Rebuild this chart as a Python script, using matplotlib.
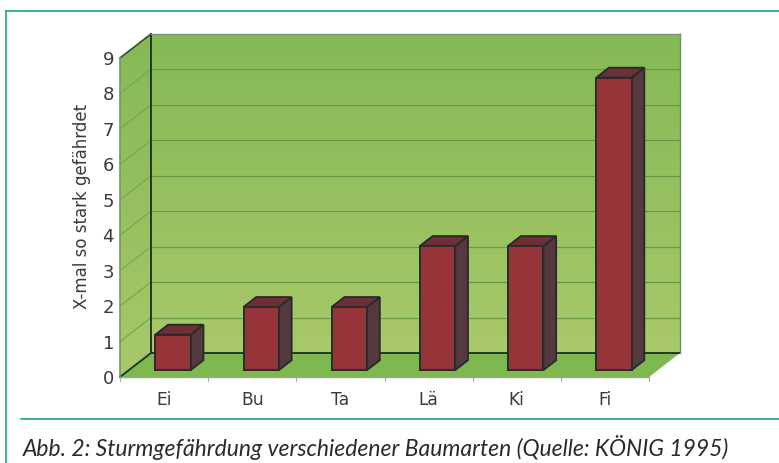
import numpy as np
import matplotlib
matplotlib.use("Agg")
import matplotlib.pyplot as plt
from matplotlib.patches import Polygon, Rectangle
from matplotlib.lines import Line2D
from matplotlib.colors import LinearSegmentedColormap

categories = ["Ei", "Bu", "Ta", "Lä", "Ki", "Fi"]
values = [1.0, 1.78, 1.78, 3.5, 3.5, 8.25]
y_ticks = list(range(10))
y_label = "X-mal so stark gefährdet"
caption = "Abb. 2: Sturmgefährdung verschiedener Baumarten (Quelle: KÖNIG 1995)"

W, H = 779, 463
X0, Y0 = 120.0, 377.0     # pixel of data origin
SX, SY = 88.17, 35.45     # px per category / per unit
DX, DY = 31 / SX, 24 / SY # chart depth in data units
YMAX = 9
N = len(categories)

fig = plt.figure(figsize=(W / 100, H / 100), dpi=100, facecolor="white")
ax = fig.add_axes([0, 0, 1, 1])
ax.axis("off")

cmap = LinearSegmentedColormap.from_list("wall", ["#a8c96a", "#96c05f", "#85b955"])
grad = np.linspace(0, 1, 256).reshape(-1, 1)


def shaded(poly, y0, y1):
    p = Polygon(poly, closed=True, fc="none", ec="none")
    ax.add_patch(p)
    im = ax.imshow(grad, origin="lower", cmap=cmap, aspect="auto",
                   extent=(-X0 / SX, N + DX + 1, y0, y1), zorder=1)
    im.set_clip_path(p)


# back wall and left wall
shaded([(DX, DY), (N + DX, DY), (N + DX, YMAX + DY), (DX, YMAX + DY)], DY, YMAX + DY)
shaded([(0, 0), (DX, DY), (DX, YMAX + DY), (0, YMAX)], 0, YMAX + DY)
# floor
ax.add_patch(Polygon([(0, 0), (N, 0), (N + DX, DY), (DX, DY)], closed=True,
                     fc="#7fb84e", ec="none", zorder=1.5))
ax.set_xlim(-X0 / SX, (W - X0) / SX)
ax.set_ylim(-(H - Y0) / SY, Y0 / SY)

# gridlines
for t in y_ticks[1:-1]:
    ax.plot([DX, N + DX], [t + DY, t + DY], color="#6a9a45", lw=0.9, zorder=2,
            solid_capstyle="butt")
    ax.plot([0, DX], [t, t + DY], color="#77a64e", lw=0.8, zorder=2,
            solid_capstyle="butt")
# wall outlines
ax.plot([DX, DX], [DY, YMAX + DY], color="#1f3a22", lw=1.4, zorder=2.2)
ax.plot([0, DX, N + DX], [0, DY, DY], color="#1f3a22", lw=1.4, zorder=2.2)
ax.plot([0, DX], [YMAX, YMAX + DY], color="#33502f", lw=1.2, zorder=2.2)
ax.plot([DX, N + DX], [YMAX + DY, YMAX + DY], color="#7f8f7a", lw=1.0, zorder=2.2)
ax.plot([N + DX, N + DX], [DY, YMAX + DY], color="#6f8f66", lw=1.0, zorder=2.2)
ax.plot([0, 0], [0, YMAX], color="#6f9a68", lw=1.2, zorder=2.2)
ax.plot([0, N], [0, 0], color="#9aa59a", lw=1.0, zorder=2.2)

# bars
BW, D0, D1 = 0.4, 0.29, 0.70
for i, v in enumerate(values):
    c = i + 0.5 + D0 * DX
    l, r = c - BW / 2, c + BW / 2
    b = D0 * DY
    t = b + v
    ddx, ddy = (D1 - D0) * DX, (D1 - D0) * DY
    ax.add_patch(Polygon([(r, b), (r + ddx, b + ddy), (r + ddx, t + ddy), (r, t)],
                         closed=True, fc="#54393f", ec="#2b2b2b", lw=1.4, zorder=3))
    ax.add_patch(Polygon([(l, t), (r, t), (r + ddx, t + ddy), (l + ddx, t + ddy)],
                         closed=True, fc="#6e3036", ec="#2b2b2b", lw=1.4, zorder=3))
    ax.add_patch(Rectangle((l, b), BW, v, fc="#96343a", ec="#2b2b2b", lw=1.4, zorder=3.2))

# ticks and labels
TXT = "#3a3a3a"
for i in range(N + 1):
    ax.plot([i, i], [0, -4 / SY], color="#a8b0a8", lw=0.8, zorder=2)
for i, name in enumerate(categories):
    ax.text(i + 0.5, -14 / SY, name, ha="center", va="top", fontsize=12.3, color=TXT,
            family="DejaVu Sans")
for t in y_ticks:
    ax.text(-6 / SX, t - 2 / SY, str(t), ha="right", va="center", fontsize=13, color=TXT,
            family="DejaVu Sans")
ax.text(-38 / SX, 4.8, y_label, rotation=90, ha="center", va="center", fontsize=12,
        color=TXT, family="DejaVu Sans")

# frame rules and caption, in figure pixels
GREEN = "#1fa67a"
px = lambda x, y: (x / W, 1 - y / H)
for a, b in [((6, 11), (779, 11)), ((6, 11), (6, 463)), ((21, 419), (779, 419))]:
    (x0, y0), (x1, y1) = px(*a), px(*b)
    fig.add_artist(Line2D([x0, x1], [y0, y1], transform=fig.transFigure, color=GREEN, lw=1.2))
fig.text(*px(23, 447), caption, fontsize=16.45, style="italic", family="Lato",
         color="#2a2a2a", ha="left", va="center")

fig.savefig("out.png", dpi=100, facecolor="white")
